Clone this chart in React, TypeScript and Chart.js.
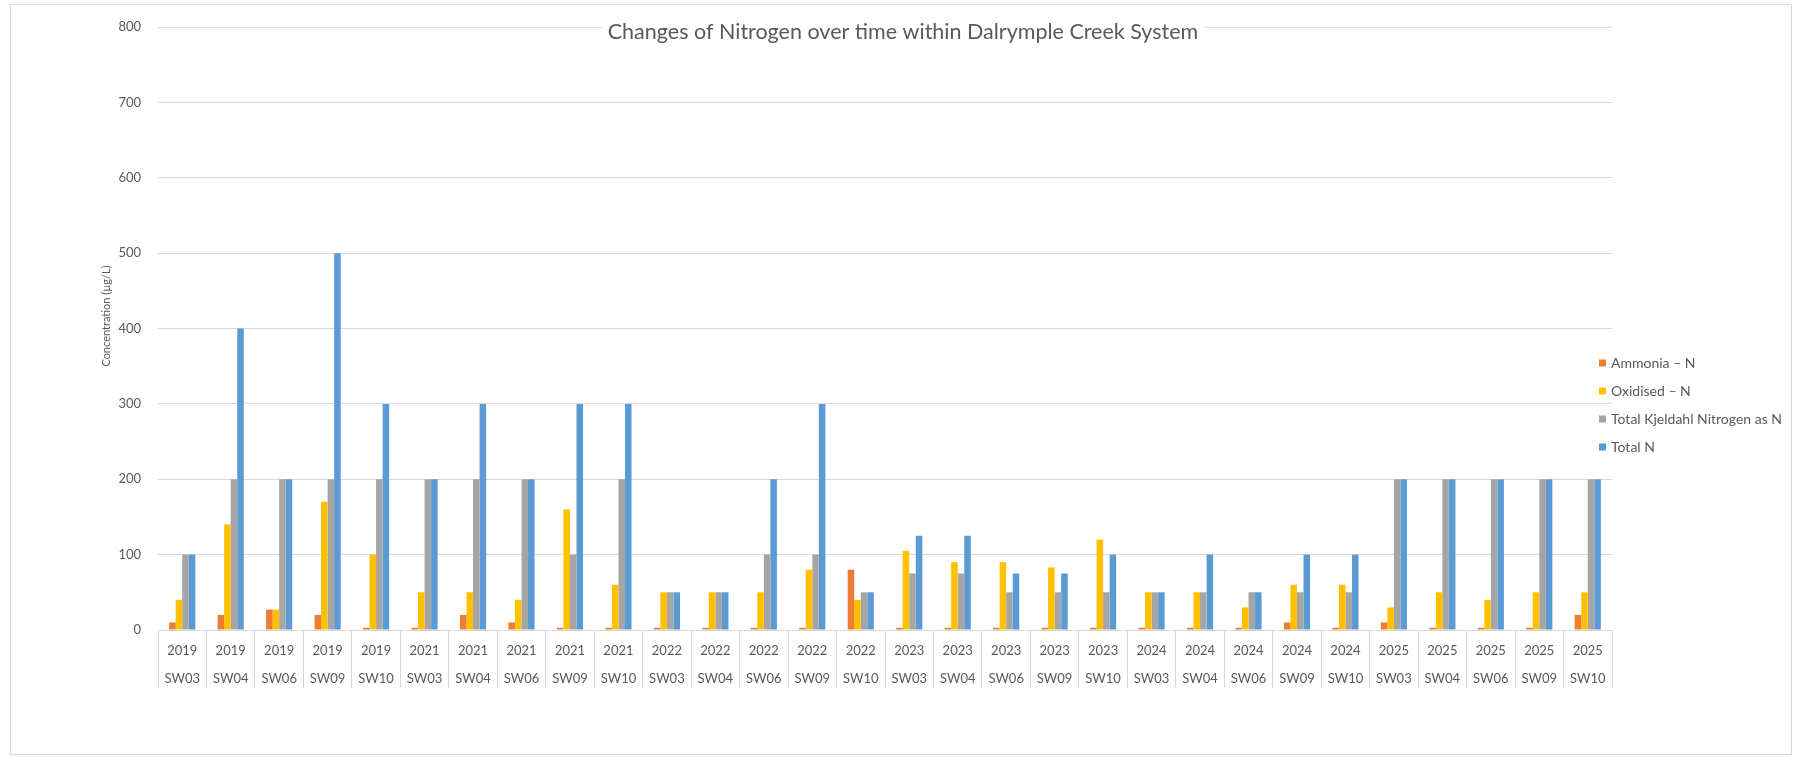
import { useEffect, useRef } from 'react';
import { Chart, registerables } from 'chart.js';

Chart.register(...registerables);

const TITLE = 'Changes of Nitrogen over time within Dalrymple Creek System';
const Y_TITLE = 'Concentration (µg/L)';

const years = [
  '2019', '2019', '2019', '2019', '2019',
  '2021', '2021', '2021', '2021', '2021',
  '2022', '2022', '2022', '2022', '2022',
  '2023', '2023', '2023', '2023', '2023',
  '2024', '2024', '2024', '2024', '2024',
  '2025', '2025', '2025', '2025', '2025',
];
const sites = [
  'SW03', 'SW04', 'SW06', 'SW09', 'SW10',
  'SW03', 'SW04', 'SW06', 'SW09', 'SW10',
  'SW03', 'SW04', 'SW06', 'SW09', 'SW10',
  'SW03', 'SW04', 'SW06', 'SW09', 'SW10',
  'SW03', 'SW04', 'SW06', 'SW09', 'SW10',
  'SW03', 'SW04', 'SW06', 'SW09', 'SW10',
];

const ammonia = [10, 20, 27, 20, 3, 3, 20, 10, 3, 3, 3, 3, 3, 3, 80, 3, 3, 3, 3, 3, 3, 3, 3, 10, 3, 10, 3, 3, 3, 20];
const oxidised = [40, 140, 27, 170, 100, 50, 50, 40, 160, 60, 50, 50, 50, 80, 40, 105, 90, 90, 83, 120, 50, 50, 30, 60, 60, 30, 50, 40, 50, 50];
const tkn = [100, 200, 200, 200, 200, 200, 200, 200, 100, 200, 50, 50, 100, 100, 50, 75, 75, 50, 50, 50, 50, 50, 50, 50, 50, 200, 200, 200, 200, 200];
const totalN = [100, 400, 200, 500, 300, 200, 300, 200, 300, 300, 50, 50, 200, 300, 50, 125, 125, 75, 75, 100, 50, 100, 50, 100, 100, 200, 200, 200, 200, 200];

const seriesNames = ['Ammonia – N', 'Oxidised – N', 'Total Kjeldahl Nitrogen as N', 'Total N'];
const seriesColors = ['#ED7D31', '#FFC000', '#A5A5A5', '#5B9BD5'];

const W = 1793;
const H = 757;
const TEXT = '#595959';
const GRID = '#D9D9D9';

const decorPlugin = {
  id: 'decor',
  beforeDraw(chart: any) {
    const ctx = chart.ctx;
    ctx.save();
    ctx.fillStyle = '#ffffff';
    ctx.fillRect(0, 0, W, H);
    ctx.strokeStyle = GRID;
    ctx.lineWidth = 1;
    ctx.strokeRect(10.5, 4.5, 1781, 750);
    ctx.restore();
  },
  afterDraw(chart: any) {
    const ctx = chart.ctx;
    ctx.save();
    // title with white box over the top gridline
    ctx.font = '21.5px Lato';
    const tw = ctx.measureText(TITLE).width;
    const tx = 903;
    const ty = 32;
    ctx.fillStyle = '#ffffff';
    ctx.fillRect(tx - tw / 2 - 6, ty - 13, tw + 12, 26);
    ctx.fillStyle = TEXT;
    ctx.textAlign = 'center';
    ctx.textBaseline = 'middle';
    ctx.fillText(TITLE, tx, ty);

    // y axis title
    ctx.save();
    ctx.translate(106, 316);
    ctx.rotate(-Math.PI / 2);
    ctx.font = '11px Lato';
    ctx.fillStyle = TEXT;
    ctx.textAlign = 'center';
    ctx.textBaseline = 'middle';
    ctx.fillText(Y_TITLE, 0, 0);
    ctx.restore();

    // legend
    ctx.font = '14px Lato';
    ctx.textAlign = 'left';
    ctx.textBaseline = 'middle';
    chart.data.datasets.forEach((ds: any, i: number) => {
      const cy = 363 + i * 28;
      ctx.fillStyle = ds.backgroundColor;
      ctx.fillRect(1599, cy - 3.5, 7, 7);
      ctx.fillStyle = TEXT;
      ctx.fillText(ds.label, 1611, cy);
    });
    ctx.restore();
  },
};

export default function App() {
  const ref = useRef<HTMLCanvasElement>(null);

  useEffect(() => {
    const values = [ammonia, oxidised, tkn, totalN];
    const chart = new Chart(ref.current as HTMLCanvasElement, {
      type: 'bar',
      data: {
        labels: years.map((y, i) => [y, sites[i]]),
        datasets: seriesNames.map((name, i) => ({
          label: name,
          data: values[i],
          backgroundColor: seriesColors[i],
          borderWidth: 0,
          barPercentage: 1,
          categoryPercentage: 0.54,
        })),
      },
      options: {
        responsive: false,
        animation: false,
        devicePixelRatio: 1,
        layout: { padding: { top: 27, right: 181, left: 0, bottom: 0 } },
        plugins: {
          legend: { display: false },
          title: { display: false },
          tooltip: { enabled: false },
        },
        scales: {
          x: {
            grid: {
              drawOnChartArea: false,
              drawTicks: true,
              tickLength: 58,
              color: GRID,
              offset: true,
            },
            border: { display: true, color: GRID },
            ticks: {
              padding: -51,
              color: TEXT,
              autoSkip: false,
              maxRotation: 0,
              minRotation: 0,
              font: { family: 'Lato', size: 13, lineHeight: '28px' },
            },
            afterFit: (s: any) => {
              s.height = H - 630;
            },
          },
          y: {
            min: 0,
            max: 800,
            ticks: {
              stepSize: 100,
              padding: 17,
              color: TEXT,
              font: { family: 'Lato', size: 13 },
            },
            grid: { color: GRID, drawTicks: false },
            border: { display: false },
            afterFit: (s: any) => {
              s.width = 158;
            },
          },
        },
      } as any,
      plugins: [decorPlugin],
    });
    return () => chart.destroy();
  }, []);

  return (
    <div style={{ position: 'absolute', left: 0, top: 0, width: W, height: H, background: '#fff' }}>
      <canvas ref={ref} width={W} height={H} style={{ display: 'block' }} />
    </div>
  );
}
